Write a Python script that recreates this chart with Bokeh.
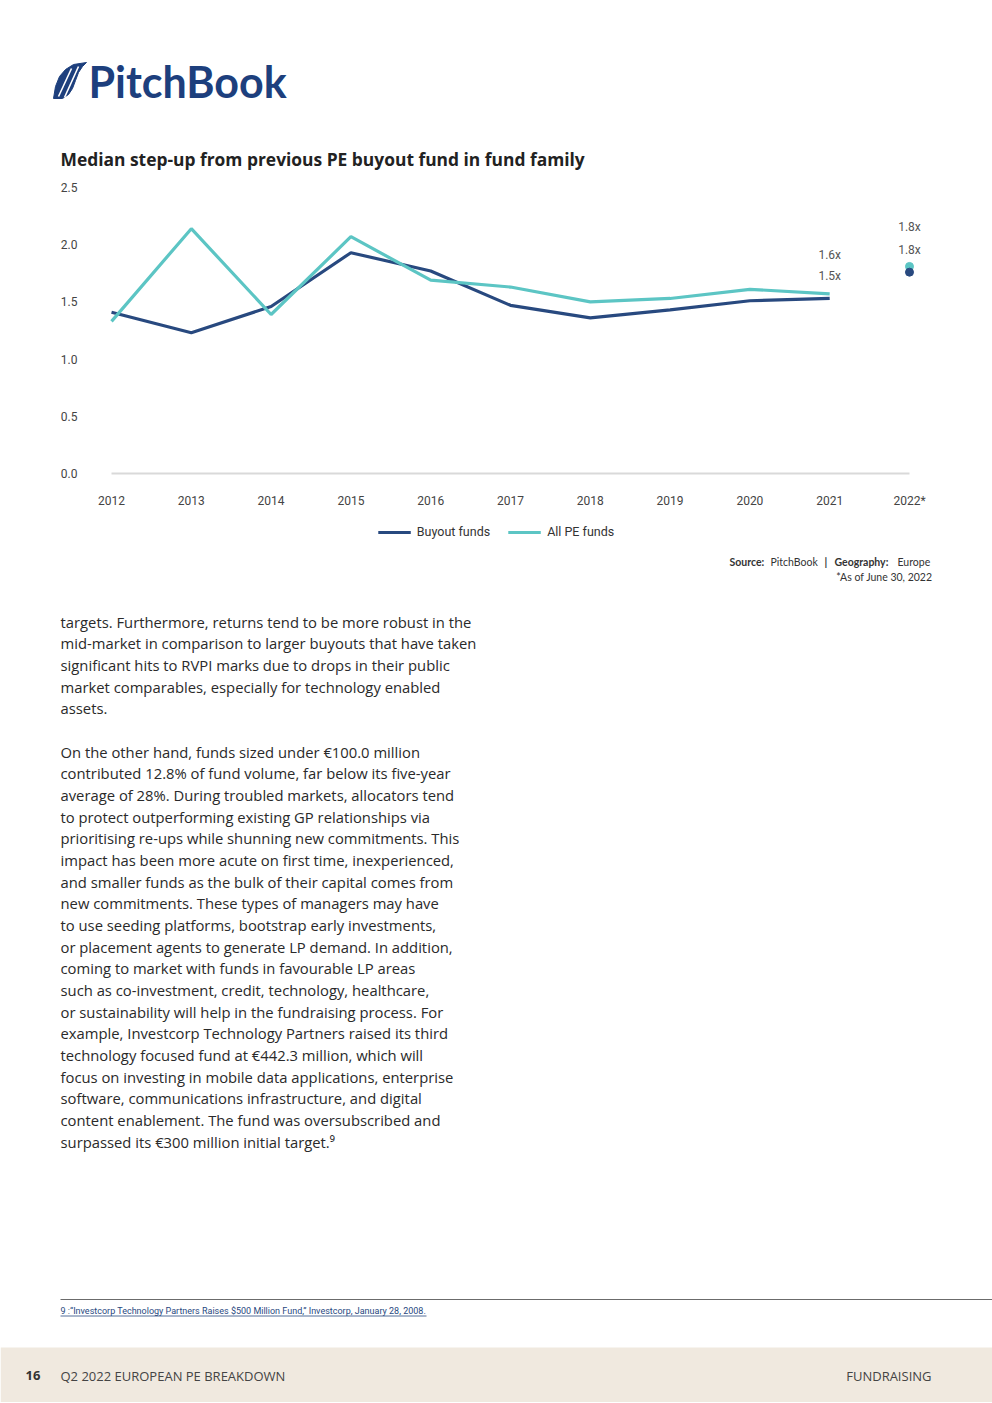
from bokeh.plotting import figure
from bokeh.models import Range1d, FixedTicker, PrintfTickFormatter, Legend, LegendItem
from bokeh.embed import file_html
from bokeh.resources import INLINE
from bokeh.core.properties import value

# ---------------- data ----------------
years = [2012, 2013, 2014, 2015, 2016, 2017, 2018, 2019, 2020, 2021]
buyout_funds = [1.41, 1.23, 1.46, 1.93, 1.77, 1.47, 1.36, 1.43, 1.51, 1.53]
all_pe_funds = [1.33, 2.14, 1.39, 2.07, 1.69, 1.63, 1.50, 1.53, 1.61, 1.57]
ytd_year = 2022
buyout_ytd = 1.76
all_pe_ytd = 1.81
y_ticks = [0.0, 0.5, 1.0, 1.5, 2.0, 2.5]
x_tick_overrides = {2022: "2022*"}
series_names = ["Buyout funds", "All PE funds"]

chart_title = "Median step-up from previous PE buyout fund in fund family"
source_parts = [("Source:", "bold"), ("PitchBook", "normal"), ("|", "bold"),
                ("Geography:", "bold"), ("Europe", "normal")]
asof_note = "*As of June 30, 2022"
body_lines = [
    "targets. Furthermore, returns tend to be more robust in the",
    "mid-market in comparison to larger buyouts that have taken",
    "significant hits to RVPI marks due to drops in their public",
    "market comparables, especially for technology enabled",
    "assets.",
    "",
    "On the other hand, funds sized under €100.0 million",
    "contributed 12.8% of fund volume, far below its five-year",
    "average of 28%. During troubled markets, allocators tend",
    "to protect outperforming existing GP relationships via",
    "prioritising re-ups while shunning new commitments. This",
    "impact has been more acute on first time, inexperienced,",
    "and smaller funds as the bulk of their capital comes from",
    "new commitments. These types of managers may have",
    "to use seeding platforms, bootstrap early investments,",
    "or placement agents to generate LP demand. In addition,",
    "coming to market with funds in favourable LP areas",
    "such as co-investment, credit, technology, healthcare,",
    "or sustainability will help in the fundraising process. For",
    "example, Investcorp Technology Partners raised its third",
    "technology focused fund at €442.3 million, which will",
    "focus on investing in mobile data applications, enterprise",
    "software, communications infrastructure, and digital",
    "content enablement. The fund was oversubscribed and",
    "surpassed its €300 million initial target.⁹",
]
footnote = "9 :\u201cInvestcorp Technology Partners Raises $500 Million Fund,\u201d Investcorp, January 28, 2008."
page_number = "16"
report_name = "Q2 2022 EUROPEAN PE BREAKDOWN"
section_name = "FUNDRAISING"

# ---------------- styles ----------------
W = 992
NAVY = "#28497f"
TEAL = "#5cc5c4"
LOGO_BLUE = "#1d3f7d"
CH_FONT = "Roboto"
BODY_FONT = "Open Sans"
LOGO_FONT = "Lato"


def pixel_fig(h):
    p = figure(width=W, height=h, x_range=Range1d(0, W), y_range=Range1d(h, 0),
               x_axis_type=None, y_axis_type=None, output_backend="svg",
               toolbar_location=None, min_border=0)
    p.outline_line_color = None
    p.background_fill_color = "white"
    p.border_fill_color = "white"
    return p


# ---------------- header (logo + title) ----------------
HA = 175
pA = pixel_fig(HA)
fx = [53, 55, 59, 65, 73, 86, 82, 78, 75, 72, 68, 62]
fy = [98, 86, 76, 69, 64, 62, 66, 72, 80, 88, 94, 98]
pA.patch(fx, fy, fill_color=LOGO_BLUE, line_color=LOGO_BLUE)
pA.segment(x0=[58, 64], y0=[96, 97], x1=[71, 78], y1=[68, 66], line_color="white", line_width=1.6)
pA.text(x=[88], y=[81], text=["PitchBook"], text_font=value(LOGO_FONT), text_font_style="bold",
        text_font_size="43px", text_color=LOGO_BLUE, text_baseline="middle", text_align="left")
pA.text(x=[60], y=[158], text=[chart_title], text_font=value(BODY_FONT), text_font_style="bold",
        text_font_size="17.4px", text_color="#222222", text_baseline="middle", text_align="left")

# ---------------- chart ----------------
HB = 340
pB = figure(width=W, height=HB,
            x_range=Range1d(years[0] - 0.326, ytd_year + 0.326),
            y_range=Range1d(-0.105, 2.605),
            output_backend="svg", toolbar_location=None,
            min_border_left=85, min_border_right=57, min_border_top=0, min_border_bottom=30)
pB.outline_line_color = None
pB.xgrid.visible = False
pB.ygrid.visible = False
for ax in (pB.xaxis[0], pB.yaxis[0]):
    ax.axis_line_color = None
    ax.major_tick_line_color = None
    ax.minor_tick_line_color = None
    ax.major_tick_out = 0
    ax.major_tick_in = 0
    ax.minor_tick_out = 0
    ax.minor_tick_in = 0
    ax.major_label_text_font = CH_FONT
    ax.major_label_text_font_size = "12px"
    ax.major_label_text_color = "#444444"
    ax.major_label_standoff = 8
pB.yaxis.ticker = FixedTicker(ticks=y_ticks)
pB.yaxis.formatter = PrintfTickFormatter(format="%.1f")
pB.xaxis.ticker = FixedTicker(ticks=years + [ytd_year])
pB.xaxis.major_label_overrides = x_tick_overrides

pB.segment(x0=[years[0]], x1=[ytd_year], y0=[y_ticks[0]], y1=[y_ticks[0]],
           line_color="#d9d9d9", line_width=2)
pB.line(years, buyout_funds, line_color=NAVY, line_width=3.2)
pB.line(years, all_pe_funds, line_color=TEAL, line_width=3.2)
pB.scatter([ytd_year], [all_pe_ytd], size=8, color=TEAL)
pB.scatter([ytd_year], [buyout_ytd], size=8, color=NAVY)

lab_x = [years[-1], ytd_year]
pB.text(x=lab_x, y=[all_pe_funds[-1], all_pe_ytd],
        text=[f"{v:.1f}x" for v in (all_pe_funds[-1], all_pe_ytd)],
        y_offset=-39, text_align="center", text_baseline="middle",
        text_font=value(CH_FONT), text_font_size="12px", text_color="#555555")
pB.text(x=lab_x, y=[buyout_funds[-1], buyout_ytd],
        text=[f"{v:.1f}x" for v in (buyout_funds[-1], buyout_ytd)],
        y_offset=-22, text_align="center", text_baseline="middle",
        text_font=value(CH_FONT), text_font_size="12px", text_color="#555555")

# ---------------- legend strip ----------------
HL = 33
pL = figure(width=W, height=HL, x_range=Range1d(0, 1), y_range=Range1d(0, 1),
            x_axis_type=None, y_axis_type=None, output_backend="svg",
            toolbar_location=None, min_border=0)
pL.outline_line_color = None
# legend swatches: renderers whose data lies outside the visible strip
lg_b = pL.line([5, 6], [5, 6], line_color=NAVY, line_width=3.2)
lg_a = pL.line([5, 6], [5, 6], line_color=TEAL, line_width=3.2)
legend = Legend(items=[LegendItem(label=series_names[0], renderers=[lg_b]),
                       LegendItem(label=series_names[1], renderers=[lg_a])],
                orientation="horizontal", location="center",
                border_line_color=None, background_fill_alpha=0,
                glyph_width=33, glyph_height=20, label_height=20,
                label_text_font=CH_FONT, label_text_font_size="12.5px",
                label_text_color="#333333", spacing=18, padding=0, margin=0,
                label_standoff=6)
pL.add_layout(legend)

# ---------------- source + body text ----------------
HC = 742
pC = pixel_fig(HC)
src_x = [729, 770, 824, 834, 897]
for (txt, style), x in zip(source_parts, src_x):
    pC.text(x=[x], y=[13], text=[txt], text_font=value(LOGO_FONT), text_font_style=style,
            text_font_size="10.5px", text_color="#333333", text_baseline="middle", text_align="left")
pC.text(x=[932], y=[28], text=[asof_note], text_font=value(LOGO_FONT), text_font_size="10.5px",
        text_color="#333333", text_baseline="middle", text_align="right")

body_y = [73 + 21.67 * i for i in range(len(body_lines))]
keep = [i for i, t in enumerate(body_lines) if t]
pC.text(x=[60] * len(keep), y=[body_y[i] for i in keep], text=[body_lines[i] for i in keep],
        text_font=value(BODY_FONT), text_font_size="14.8px", text_color="#2a2a2a",
        text_baseline="middle", text_align="left")

# ---------------- footnote + footer ----------------
HD = 112
pD = pixel_fig(HD)
pD.segment(x0=[60], x1=[W], y0=[9], y1=[9], line_color="#6b6b6b", line_width=1)
pD.text(x=[60], y=[20], text=[footnote], text_font=value(CH_FONT), text_font_size="9px",
        text_color=NAVY, text_baseline="middle", text_align="left")
pD.segment(x0=[60], x1=[426], y0=[25.5], y1=[25.5], line_color=NAVY, line_width=0.8)
pD.quad(left=[0], right=[W], top=[57], bottom=[HD], fill_color="#f0e9df", line_color=None)
pD.text(x=[25], y=[85], text=[page_number], text_font=value(BODY_FONT), text_font_style="bold",
        text_font_size="13px", text_color="#333333", text_baseline="middle", text_align="left")
pD.text(x=[60], y=[85], text=[report_name], text_font=value(BODY_FONT),
        text_font_size="13px", text_color="#444444", text_baseline="middle", text_align="left")
pD.text(x=[931], y=[85], text=[section_name], text_font=value(BODY_FONT),
        text_font_size="13px", text_color="#444444", text_baseline="middle", text_align="right")

open("out.html", "w").write(file_html([pA, pB, pL, pC, pD], INLINE))
